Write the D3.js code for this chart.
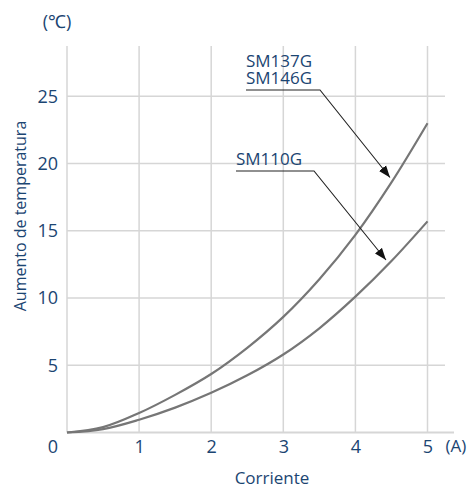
<!DOCTYPE html>
<html>
<head>
<meta charset="utf-8">
<style>
  body { margin: 0; background: #fff; }
  text { font-family: "Open Sans", "Noto Sans", sans-serif; fill: #1b4572; }
</style>
</head>
<body>
<svg width="470" height="488"></svg>
<script src="https://cdn.jsdelivr.net/npm/d3@7"></script>
<script>

// current (A) and temperature rise (°C)
var current = [0, 0.5, 1, 1.5, 2, 2.5, 3, 3.5, 4, 4.5, 5]
var riseSM137 = [0, 0.4, 1.45, 2.8, 4.35, 6.3, 8.6, 11.4, 14.7, 18.6, 23.0]
var riseSM110 = [0, 0.25, 0.95, 1.85, 2.95, 4.25, 5.8, 7.75, 10.1, 12.75, 15.7]

var xTicks = [1, 2, 3, 4, 5]
var yTicks = [5, 10, 15, 20, 25]

var labels = [['SM137G', 'SM146G'], ['SM110G']]

var svg = d3.select('svg')

var x = d3.scaleLinear().domain([0, 5]).range([67, 427.5])
var y = d3.scaleLinear().domain([0, 25]).range([432.5, 96.3])

var gridColor = '#d6d6d6'

// vertical grid lines (including the y axis at 0)
svg.append('g').selectAll('line')
  .data([0].concat(xTicks))
  .enter().append('line')
  .attr('x1', function (d) { return x(d) })
  .attr('x2', function (d) { return x(d) })
  .attr('y1', 46)
  .attr('y2', y(0))
  .attr('stroke', gridColor)
  .attr('stroke-width', 1.5)

// horizontal grid lines
svg.append('g').selectAll('line')
  .data(yTicks)
  .enter().append('line')
  .attr('x1', x(0))
  .attr('x2', 445)
  .attr('y1', function (d) { return y(d) })
  .attr('y2', function (d) { return y(d) })
  .attr('stroke', gridColor)
  .attr('stroke-width', 1.5)

// x axis line
svg.append('line')
  .attr('x1', x(0)).attr('x2', 454)
  .attr('y1', y(0)).attr('y2', y(0))
  .attr('stroke', gridColor)
  .attr('stroke-width', 2)

// tick labels through d3 axes, with the domain path hidden
var xAxis = svg.append('g')
  .attr('transform', 'translate(0,' + y(0) + ')')
  .call(d3.axisBottom(x).tickValues(xTicks).tickFormat(d3.format('d')).tickSize(0).tickPadding(8))
xAxis.select('.domain').remove()
xAxis.selectAll('text').attr('font-size', 18).attr('font-family', null)

var yAxis = svg.append('g')
  .attr('transform', 'translate(' + x(0) + ',0)')
  .call(d3.axisLeft(y).tickValues(yTicks).tickFormat(d3.format('d')).tickSize(0).tickPadding(9))
yAxis.select('.domain').remove()
yAxis.selectAll('text').attr('font-size', 18).attr('font-family', null)

svg.append('text').attr('x', 53).attr('y', 453)
  .attr('text-anchor', 'middle').attr('font-size', 18).text('0')

svg.append('text').attr('x', 456).attr('y', 452)
  .attr('text-anchor', 'middle').attr('font-size', 17).text('(A)')

svg.append('text').attr('x', 57).attr('y', 28)
  .attr('text-anchor', 'middle').attr('font-size', 18).text('(℃)')

svg.append('text').attr('x', 272).attr('y', 484)
  .attr('text-anchor', 'middle').attr('font-size', 17).text('Corriente')

svg.append('text')
  .attr('transform', 'translate(26,216) rotate(-90)')
  .attr('text-anchor', 'middle').attr('font-size', 16).text('Aumento de temperatura')

// curves
var line = d3.line()
  .x(function (d) { return x(d[0]) })
  .y(function (d) { return y(d[1]) })
  .curve(d3.curveCatmullRom.alpha(0.5))

;[riseSM137, riseSM110].forEach(function (series) {
  svg.append('path')
    .datum(d3.zip(current, series))
    .attr('d', line)
    .attr('fill', 'none')
    .attr('stroke', '#767676')
    .attr('stroke-width', 2.2)
})

// arrow marker
svg.append('defs').append('marker')
  .attr('id', 'arrow')
  .attr('viewBox', '0 -5 12 10')
  .attr('refX', 12)
  .attr('refY', 0)
  .attr('markerWidth', 12)
  .attr('markerHeight', 10)
  .attr('markerUnits', 'userSpaceOnUse')
  .attr('orient', 'auto')
  .append('path')
  .attr('d', 'M0,-4.5L12,0L0,4.5Z')
  .attr('fill', '#111')

// annotation positions in pixels
var annot = [
  { textX: 246, baseY: 67, lineY: 90, lineX1: 246, lineX2: 320, tip: [390, 177.5] },
  { textX: 236, baseY: 165, lineY: 171, lineX1: 236, lineX2: 314, tip: [386, 260] }
]

labels.forEach(function (lab, i) {
  var a = annot[i]
  lab.forEach(function (t, j) {
    svg.append('text')
      .attr('x', a.textX).attr('y', a.baseY + j * 17)
      .attr('font-size', 17).text(t)
  })
  svg.append('polyline')
    .attr('points', [[a.lineX1, a.lineY], [a.lineX2, a.lineY], a.tip].join(' '))
    .attr('fill', 'none')
    .attr('stroke', '#222')
    .attr('stroke-width', 1.1)
    .attr('marker-end', 'url(#arrow)')
})

</script>
</body>
</html>
